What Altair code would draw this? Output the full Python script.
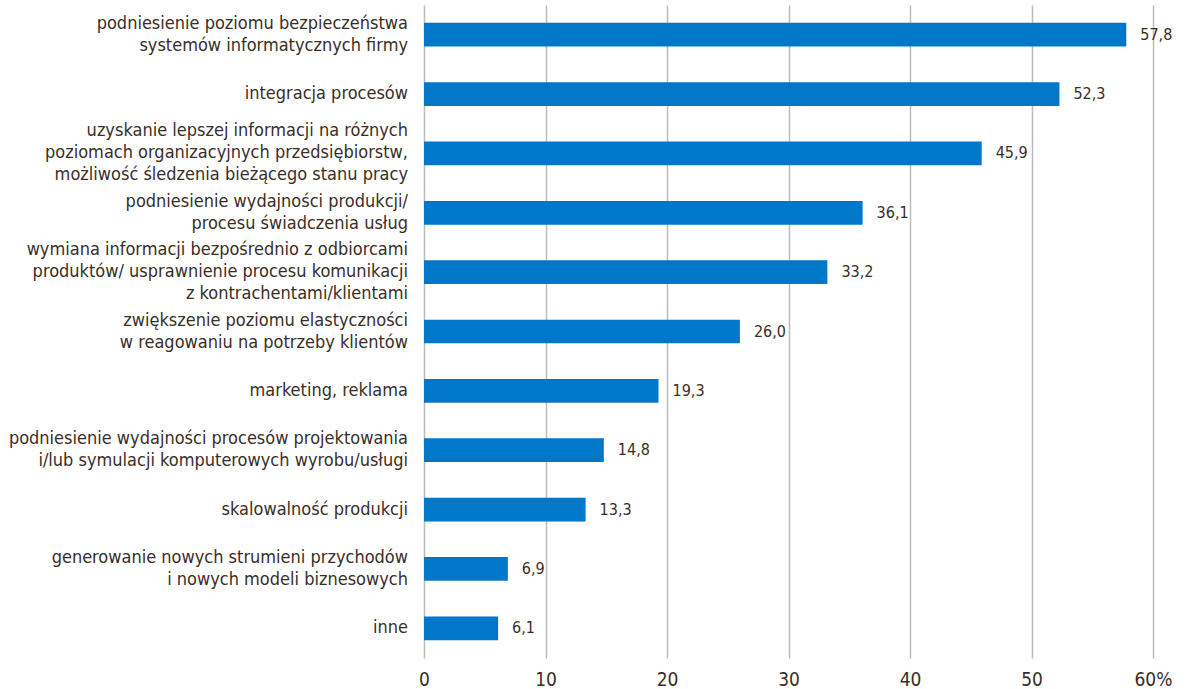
import altair as alt
import pandas as pd

categories = [
    "podniesienie poziomu bezpieczeństwa|systemów informatycznych firmy",
    "integracja procesów",
    "uzyskanie lepszej informacji na różnych|poziomach organizacyjnych przedsiębiorstw,|możliwość śledzenia bieżącego stanu pracy",
    "podniesienie wydajności produkcji/|procesu świadczenia usług",
    "wymiana informacji bezpośrednio z odbiorcami|produktów/ usprawnienie procesu komunikacji|z kontrachentami/klientami",
    "zwiększenie poziomu elastyczności|w reagowaniu na potrzeby klientów",
    "marketing, reklama",
    "podniesienie wydajności procesów projektowania|i/lub symulacji komputerowych wyrobu/usługi",
    "skalowalność produkcji",
    "generowanie nowych strumieni przychodów|i nowych modeli biznesowych",
    "inne",
]
values = [57.8, 52.3, 45.9, 36.1, 33.2, 26.0, 19.3, 14.8, 13.3, 6.9, 6.1]
x_ticks = [0, 10, 20, 30, 40, 50, 60]

df = pd.DataFrame({"cat": categories, "val": values})

FONT = "DejaVu Sans Condensed"
TXT = "#3a2e28"
LINE_H = 22
HALF_BAND = 11.9

y_enc = alt.Y(
    "cat:N",
    sort=categories,
    title=None,
    scale=alt.Scale(paddingInner=0.6, paddingOuter=0.3),
    axis=None,
)

x_enc = alt.X(
    "val:Q",
    title=None,
    scale=alt.Scale(domain=[0, 60], nice=False),
    axis=alt.Axis(
        values=x_ticks,
        labelExpr="datum.value == 60 ? '60%' : datum.label",
        labelFont=FONT,
        labelFontSize=19,
        labelColor=TXT,
        labelPadding=12,
        labelFlush=False,
        ticks=False,
        domain=False,
        grid=True,
        gridColor="#bdbdbd",
        gridWidth=1.5,
    ),
)

bars = alt.Chart(df).mark_bar(color="#0077C8").encode(x=x_enc, y=y_enc)

text = (
    alt.Chart(df)
    .transform_calculate(lab="replace(format(datum.val, '.1f'), '.', ',')")
    .mark_text(align="left", baseline="middle", dx=14, font=FONT, fontSize=16, color=TXT)
    .encode(x="val:Q", y=alt.Y("cat:N", sort=categories), text="lab:N")
)

cat_labels = (
    alt.Chart(df)
    .transform_calculate(
        off=f"{HALF_BAND} - (length(split(datum.cat, '|')) - 1) * {LINE_H} / 2"
    )
    .mark_text(
        align="right",
        baseline="middle",
        lineBreak="|",
        lineHeight=LINE_H,
        font=FONT,
        fontSize=18,
        color=TXT,
    )
    .encode(
        x=alt.value(-16),
        y=alt.Y("cat:N", sort=categories),
        yOffset=alt.YOffset("off:Q", scale=None),
        text="cat:N",
    )
)

chart = (
    alt.layer(bars, text, cat_labels)
    .properties(
        width=729,
        height=653,
        autosize=alt.AutoSizeParams(type="none"),
        padding={"left": 424, "top": 5, "right": 35, "bottom": 31},
        background="white",
    )
    .configure_view(stroke=None)
)

chart.save("out.html", embed_options={"renderer": "svg", "actions": False})
